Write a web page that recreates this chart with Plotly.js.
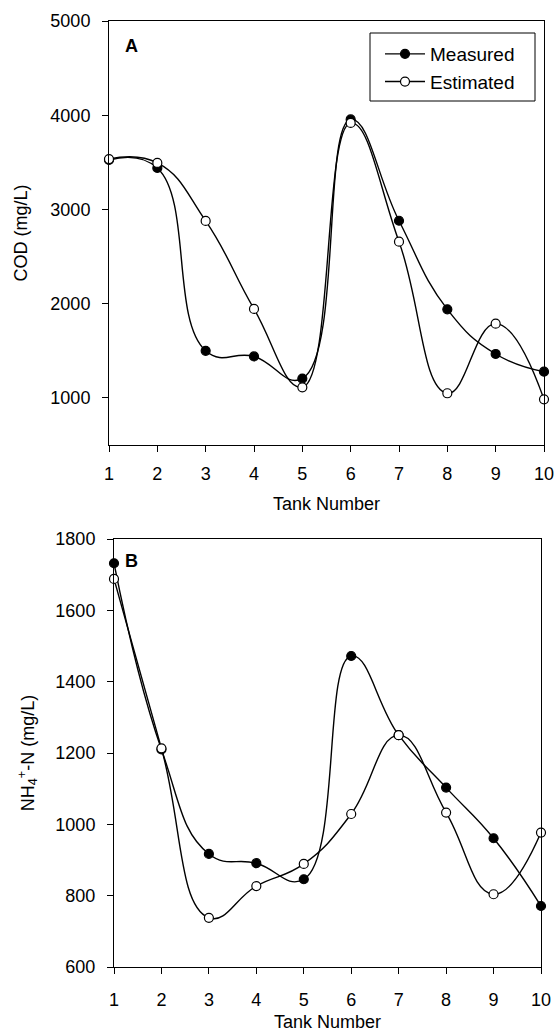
<!DOCTYPE html>
<html>
<head>
<meta charset="utf-8">
<script src="https://cdn.plot.ly/plotly-3.0.1.min.js"></script>
<style>html,body{margin:0;padding:0;background:#fff;}#chart{width:555px;height:1032px;}</style>
</head>
<body>
<div id="chart"></div>
<script>
var tanks = [1, 2, 3, 4, 5, 6, 7, 8, 9, 10];
var tickLabels = ['1', '2', '3', '4', '5', '6', '7', '8', '9', '10'];
var codMeasured = [3525, 3440, 1500, 1440, 1205, 3955, 2880, 1940, 1466, 1278];
var codEstimated = [3535, 3494, 2878, 1944, 1112, 3918, 2658, 1049, 1788, 985];
var nh4Measured = [1732, 1210, 917, 891, 846, 1472, 1250, 1103, 961, 771];
var nh4Estimated = [1688, 1213, 738, 827, 889, 1029, 1250, 1033, 804, 977];
var seriesNames = ['Measured', 'Estimated'];
var panelLabels = ['A', 'B'];
var xTitle = 'Tank Number';
var yTitleTop = 'COD (mg/L)';
var yTitleBottom = 'NH<sub>4</sub><sup>+</sup>-N (mg/L)';

var W = 555, H = 1032;
var FONT = 'Liberation Sans, Arial, sans-serif';
function px(x) { return x / W; }
function py(y) { return 1 - y / H; }

function tr(y, name, filled, xa, ya, showleg) {
  return {
    x: tanks, y: y, name: name, xaxis: xa, yaxis: ya, showlegend: showleg,
    mode: 'lines+markers', type: 'scatter', cliponaxis: false,
    line: {color: '#000', width: 1.4, shape: 'spline', smoothing: 1.3},
    marker: {symbol: 'circle', size: 9, color: filled ? '#000' : '#fff', line: {color: '#000', width: 1.2}}
  };
}

var data = [
  tr(codMeasured, seriesNames[0], true, 'x', 'y', true),
  tr(codEstimated, seriesNames[1], false, 'x', 'y', true),
  tr(nh4Measured, seriesNames[0], true, 'x2', 'y2', false),
  tr(nh4Estimated, seriesNames[1], false, 'x2', 'y2', false)
];

var axBase = {
  showgrid: false, zeroline: false, showline: true, linecolor: '#000', linewidth: 1,
  mirror: true, ticks: 'outside', ticklen: 6, tickwidth: 1, tickcolor: '#000',
  tickfont: {family: FONT, size: 18, color: '#000'}
};
function ax(o) { return Object.assign({}, axBase, o); }

var layout = {
  width: W, height: H,
  margin: {l: 0, r: 0, t: 0, b: 0},
  paper_bgcolor: '#fff', plot_bgcolor: '#fff',
  font: {family: FONT, size: 18, color: '#000'},
  xaxis: ax({domain: [px(109), px(544)], range: [1, 10], tickvals: tanks, ticktext: tickLabels, anchor: 'y',
    ticklabelstandoff: 6,
    title: {text: xTitle, font: {family: FONT, size: 18, color: '#000'}, standoff: 14}}),
  yaxis: ax({domain: [py(445), py(21)], range: [500, 5000], tickvals: [1000, 2000, 3000, 4000, 5000], anchor: 'x',
    ticklabelstandoff: 8,
    title: {text: yTitleTop, font: {family: FONT, size: 18, color: '#000'}, standoff: 18}}),
  xaxis2: ax({domain: [px(114), px(541)], range: [1, 10], tickvals: tanks, ticktext: tickLabels, anchor: 'y2',
    ticklabelstandoff: 10,
    title: {text: xTitle, font: {family: FONT, size: 18, color: '#000'}, standoff: 10}}),
  yaxis2: ax({domain: [py(967), py(539)], range: [600, 1800], tickvals: [600, 800, 1000, 1200, 1400, 1600, 1800], anchor: 'x2',
    ticklabelstandoff: 8,
    title: {text: yTitleBottom, font: {family: FONT, size: 18, color: '#000'}, standoff: 16}}),
  showlegend: true,
  legend: {x: px(380), y: py(35), xanchor: 'left', yanchor: 'top', bgcolor: 'rgba(0,0,0,0)', borderwidth: 0,
    itemwidth: 40, font: {family: FONT, size: 19, color: '#000'}, tracegroupgap: 0},
  shapes: [
    {type: 'rect', xref: 'paper', yref: 'paper', x0: px(370), x1: px(535), y0: py(101), y1: py(33),
     line: {color: '#000', width: 1}, fillcolor: 'rgba(0,0,0,0)'}
  ],
  annotations: [
    {text: '<b>' + panelLabels[0] + '</b>', xref: 'paper', yref: 'paper', x: px(131), y: py(46), showarrow: false,
     xanchor: 'center', yanchor: 'middle', font: {family: FONT, size: 18, color: '#000'}},
    {text: '<b>' + panelLabels[1] + '</b>', xref: 'paper', yref: 'paper', x: px(131), y: py(561), showarrow: false,
     xanchor: 'center', yanchor: 'middle', font: {family: FONT, size: 18, color: '#000'}}
  ]
};

Plotly.newPlot('chart', data, layout, {staticPlot: true, displayModeBar: false});
</script>
</body>
</html>
